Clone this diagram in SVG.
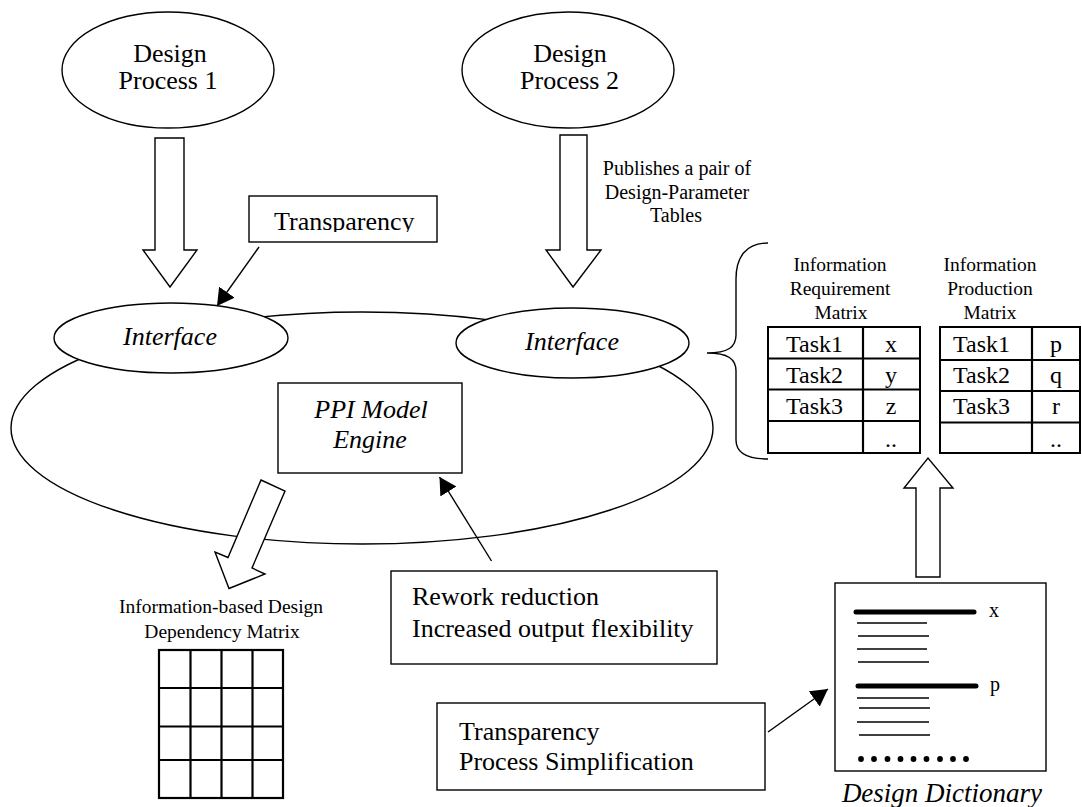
<svg xmlns="http://www.w3.org/2000/svg" width="1082" height="807" viewBox="0 0 1082 807">
  <style>
    text { font-family: "Liberation Serif", "Times New Roman", serif; fill: #000; }
    .t26 { font-size: 26px; }
    .t20 { font-size: 20px; }
    .t19 { font-size: 19.5px; }
    .cell { font-size: 24px; }
    .it { font-style: italic; }
    .mid { text-anchor: middle; }
    .shape { fill: #fff; stroke: #000; stroke-width: 1.4; }
    .tbl { fill: #fff; stroke: #000; stroke-width: 2; }
    .grid { fill: none; stroke: #000; stroke-width: 2.2; }
    .conn { fill: none; stroke: #000; stroke-width: 1.4; }
    .rule { stroke: #000; stroke-width: 1.6; }
    .bold-rule { stroke: #000; stroke-width: 5; stroke-linecap: round; }
  </style>
  <defs>
    <marker id="head" markerUnits="userSpaceOnUse" viewBox="0 0 17 19" refX="17" refY="9.5" markerWidth="17" markerHeight="19" orient="auto">
      <path d="M0,0 L17,9.5 L0,19 z" fill="#000"/>
    </marker>
    <clipPath id="clipTop">
      <rect x="249" y="196" width="188" height="36"/>
    </clipPath>
    <clipPath id="clipRework">
      <rect x="391" y="571" width="309" height="93"/>
    </clipPath>
  </defs>

  <!-- PPI platform -->
  <g id="platform">
    <ellipse class="shape" cx="362" cy="428" rx="351" ry="116"/>
  </g>

  <g id="interface-1">
    <ellipse class="shape" cx="171" cy="338" rx="117" ry="35"/>
    <text class="t26 it mid" x="170" y="345">Interface</text>
  </g>

  <g id="interface-2">
    <ellipse class="shape" cx="572.5" cy="343" rx="116.5" ry="35"/>
    <text class="t26 it mid" x="572" y="350">Interface</text>
  </g>

  <g id="ppi-engine">
    <rect class="shape" x="278" y="383" width="184" height="90"/>
    <text class="t26 it mid" x="371" y="418">PPI Model</text>
    <text class="t26 it mid" x="370" y="448">Engine</text>
  </g>

  <g id="design-process-1">
    <ellipse class="shape" cx="168" cy="70" rx="106" ry="58"/>
    <text class="t26 mid" x="170" y="62">Design</text>
    <text class="t26 mid" x="168" y="89">Process 1</text>
  </g>

  <g id="design-process-2">
    <ellipse class="shape" cx="568" cy="70" rx="106" ry="58"/>
    <text class="t26 mid" x="570" y="62">Design</text>
    <text class="t26 mid" x="569.5" y="89">Process 2</text>
  </g>

  <g id="transparency-note">
    <rect class="shape" x="249" y="196" width="188" height="46"/>
    <text class="t26" x="274" y="230" clip-path="url(#clipTop)">Transparency</text>
  </g>

  <g id="publish-label">
    <text class="t20 mid" x="677" y="175">Publishes a pair of</text>
    <text class="t20 mid" x="677" y="199">Design-Parameter</text>
    <text class="t20 mid" x="676" y="222">Tables</text>
  </g>

  <g id="requirement-matrix">
    <text class="t19 mid" x="840" y="271">Information</text>
    <text class="t19 mid" x="840" y="295">Requirement</text>
    <text class="t19 mid" x="841" y="319">Matrix</text>
    <rect class="tbl" x="768" y="327" width="152" height="126"/>
    <path class="grid" d="M863,327 V453 M768,358.5 H920 M768,389.5 H920 M768,421 H920"/>
    <text class="cell" x="786" y="352">Task1</text>
    <text class="cell" x="786" y="383">Task2</text>
    <text class="cell" x="786" y="414">Task3</text>
    <text class="cell mid" x="891" y="352">x</text>
    <text class="cell mid" x="891" y="383">y</text>
    <text class="cell mid" x="891" y="414">z</text>
    <text class="cell mid" x="891" y="447">..</text>
  </g>

  <g id="production-matrix">
    <text class="t19 mid" x="990" y="271">Information</text>
    <text class="t19 mid" x="990" y="295">Production</text>
    <text class="t19 mid" x="990" y="319">Matrix</text>
    <rect class="tbl" x="940" y="327" width="140" height="126"/>
    <path class="grid" d="M1032,327 V453 M940,360 H1080 M940,391 H1080 M940,422.5 H1080"/>
    <text class="cell" x="953" y="352">Task1</text>
    <text class="cell" x="953" y="383">Task2</text>
    <text class="cell" x="953" y="414">Task3</text>
    <text class="cell mid" x="1056" y="352">p</text>
    <text class="cell mid" x="1056" y="383">q</text>
    <text class="cell mid" x="1056" y="414">r</text>
    <text class="cell mid" x="1056" y="447">..</text>
  </g>

  <g id="dependency-matrix">
    <text class="t19 mid" x="221" y="613">Information-based Design</text>
    <text class="t19 mid" x="222" y="638">Dependency Matrix</text>
    <rect class="grid" x="159" y="650" width="124" height="148"/>
    <path class="grid" d="M190.5,650 V798 M221.5,650 V798 M252.5,650 V798 M159,688 H283 M159,726.5 H283 M159,760 H283"/>
  </g>

  <g id="rework-note">
    <rect class="shape" x="391" y="571" width="326" height="93"/>
    <text class="t26" x="412" y="605">Rework reduction</text>
    <text class="t26" x="412" y="637" clip-path="url(#clipRework)">Increased output flexibility</text>
  </g>

  <g id="simplification-note">
    <rect class="shape" x="437" y="703" width="328" height="87"/>
    <text class="t26" x="459" y="740">Transparency</text>
    <text class="t26" x="459" y="770">Process Simplification</text>
  </g>

  <g id="design-dictionary">
    <rect class="shape" x="835" y="583" width="211" height="188"/>
    <line class="bold-rule" x1="856" y1="612" x2="974" y2="612"/>
    <text class="t20" x="989" y="617">x</text>
    <line class="rule" x1="857" y1="623" x2="927" y2="623"/>
    <line class="rule" x1="858" y1="636" x2="929" y2="636"/>
    <line class="rule" x1="857" y1="649" x2="927" y2="649"/>
    <line class="rule" x1="858" y1="662" x2="929" y2="662"/>
    <line class="bold-rule" x1="858" y1="686" x2="976" y2="686"/>
    <text class="t20" x="990" y="691">p</text>
    <line class="rule" x1="857" y1="698" x2="929" y2="698"/>
    <line class="rule" x1="859" y1="708" x2="930" y2="708"/>
    <line class="rule" x1="857" y1="722" x2="929" y2="722"/>
    <line class="rule" x1="859" y1="735" x2="930" y2="735"/>
    <g fill="#000">
      <circle cx="861" cy="759" r="2.9"/>
      <circle cx="874" cy="759" r="2.9"/>
      <circle cx="887.5" cy="759" r="2.9"/>
      <circle cx="900.5" cy="759" r="2.9"/>
      <circle cx="913.5" cy="759" r="2.9"/>
      <circle cx="926.5" cy="759" r="2.9"/>
      <circle cx="940" cy="759" r="2.9"/>
      <circle cx="953" cy="759" r="2.9"/>
      <circle cx="966" cy="759" r="2.9"/>
    </g>
    <text class="it mid" style="font-size:27px" x="942" y="802">Design Dictionary</text>
  </g>

  <!-- connectors: block arrows, brace and pointer lines -->
  <g id="connectors">
    <polygon class="shape" points="155,138 184,138 184,250 197,250 170,287 143,250 155,250"/>
    <polygon class="shape" points="560,135 587,135 587,250 601,250 573,287 546,250 560,250"/>
    <polygon class="shape" points="916,577 940,577 940,488 953,488 928,458 904,488 916,488"/>
    <polygon class="shape" points="261,480 285,491 252,568 265,574 229,588.5 215,552 228,557.5"/>
    <path class="conn" d="M768,243 C746,243 736,257 736,279 L736,335 C736,347 728,353 707,353 C728,353 736,359 736,371 L736,440 C736,452 746,459 768,459"/>
    <line class="conn" x1="259" y1="247" x2="217" y2="306" marker-end="url(#head)"/>
    <line class="conn" x1="491.5" y1="561" x2="439.5" y2="477" marker-end="url(#head)"/>
    <line class="conn" x1="768" y1="732" x2="828" y2="689" marker-end="url(#head)"/>
  </g>
</svg>
